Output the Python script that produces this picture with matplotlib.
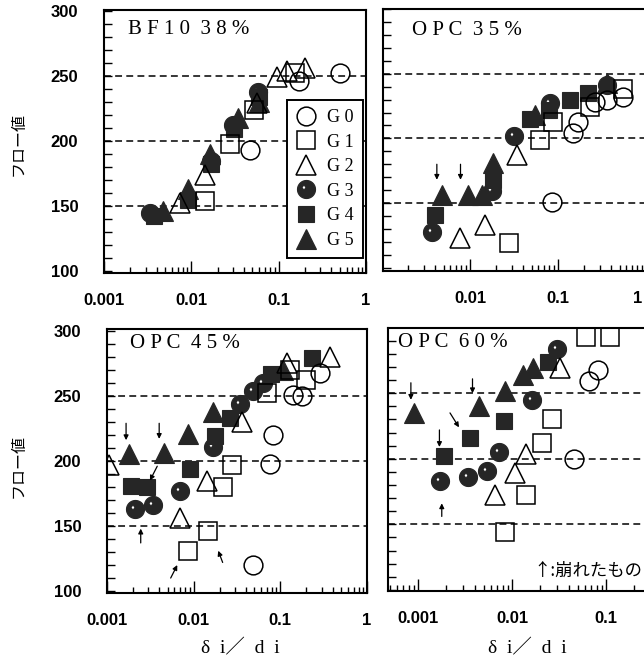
import numpy as np
import matplotlib
matplotlib.use("Agg")
import matplotlib.pyplot as plt
from matplotlib.path import Path
from matplotlib.ticker import LogLocator, MultipleLocator, FixedLocator, FixedFormatter, NullFormatter

# ---------------- data ----------------
series_labels = ["G 0", "G 1", "G 2", "G 3", "G 4", "G 5"]
panel_titles = ["B F 1 0  3 8 %", "O P C  3 5 %", "O P C  4 5 %", "O P C  6 0 %"]
y_tick_values = [100, 150, 200, 250, 300]
ref_levels = [150, 200, 250]
x_tick_values = [0.001, 0.01, 0.1, 1]
x_tick_labels = ["0.001", "0.01", "0.1", "1"]
ylabel_text = "フロー値"
xlabel_text = "δ  i／  d  i"
note_text = "↑:崩れたもの"

# BF10 38%
bf38_g0_x = [0.047, 0.17, 0.50]
bf38_g0_y = [193, 246, 252]
bf38_g1_x = [0.0145, 0.0275, 0.052, 0.154]
bf38_g1_y = [154, 198, 224, 252]
bf38_g2_x = [0.0074, 0.0145, 0.057, 0.095, 0.125, 0.20]
bf38_g2_y = [152, 174, 229, 249, 254, 256]
bf38_g3_x = [0.0034, 0.017, 0.030, 0.058]
bf38_g3_y = [145, 185, 212, 238]
bf38_g4_x = [0.0037, 0.0092, 0.017, 0.031, 0.060]
bf38_g4_y = [142, 155, 182, 209, 234]
bf38_g5_x = [0.0048, 0.0092, 0.0165, 0.034, 0.060]
bf38_g5_y = [146, 163, 190, 218, 230]
bf38_arrows = []

# OPC 35%
opc35_g0_x = [0.085, 0.149, 0.17, 0.26, 0.36, 0.55]
opc35_g0_y = [151, 204, 213, 228, 230, 232]
opc35_g1_x = [0.028, 0.062, 0.088, 0.23, 0.55]
opc35_g1_y = [119, 199, 213, 224, 238]
opc35_g2_x = [0.0077, 0.0148, 0.034]
opc35_g2_y = [123, 133, 187]
opc35_g3_x = [0.0037, 0.0176, 0.032, 0.081, 0.36]
opc35_g3_y = [128, 159, 202, 227, 241]
opc35_g4_x = [0.0040, 0.0184, 0.048, 0.078, 0.137, 0.22]
opc35_g4_y = [141, 168, 215, 222, 230, 235]
opc35_g5_x = [0.0048, 0.0096, 0.0136, 0.0184, 0.055, 0.36]
opc35_g5_y = [156, 156, 156, 181, 218, 243]
opc35_arrows = [(0.0042, 180, 0.0042, 168), (0.0078, 180, 0.0078, 168)]

# OPC 45%
opc45_g0_x = [0.048, 0.075, 0.083, 0.141, 0.176, 0.29]
opc45_g0_y = [120, 198, 220, 251, 250, 268]
opc45_g1_x = [0.0087, 0.0148, 0.022, 0.0274, 0.070, 0.128, 0.20]
opc45_g1_y = [131, 146, 180, 197, 252, 270, 262]
opc45_g2_x = [0.00105, 0.0069, 0.0141, 0.0357, 0.118, 0.373]
opc45_g2_y = [197, 156, 185, 230, 275, 280]
opc45_g3_x = [0.0021, 0.0034, 0.0070, 0.0168, 0.034, 0.049, 0.063]
opc45_g3_y = [163, 166, 177, 211, 244, 254, 260]
opc45_g4_x = [0.0019, 0.0029, 0.0091, 0.0176, 0.026, 0.079, 0.23]
opc45_g4_y = [181, 180, 194, 219, 233, 267, 279]
opc45_g5_x = [0.0018, 0.0045, 0.0087, 0.0168, 0.108]
opc45_g5_y = [205, 206, 221, 238, 270]
opc45_arrows = [(0.00166, 229, 0.00166, 216), (0.0040, 229, 0.0040, 217),
                (0.0038, 196, 0.00313, 185), (0.00245, 137, 0.00245, 148),
                (0.00543, 110, 0.00647, 120), (0.0216, 122, 0.0192, 131)]

# OPC 60%
opc60_g0_x = [0.0457, 0.0665, 0.083]
opc60_g0_y = [200, 259, 268]
opc60_g1_x = [0.0084, 0.0141, 0.0207, 0.0264, 0.062, 0.11]
opc60_g1_y = [144, 172, 212, 230, 293, 293]
opc60_g2_x = [0.0066, 0.0108, 0.0141, 0.0324]
opc60_g2_y = [172, 189, 204, 269]
opc60_g3_x = [0.0017, 0.0034, 0.0054, 0.0072, 0.0164, 0.030]
opc60_g3_y = [183, 186, 191, 205, 245, 284]
opc60_g4_x = [0.0019, 0.0036, 0.0083, 0.0243]
opc60_g4_y = [202, 216, 229, 274]
opc60_g5_x = [0.00090, 0.0045, 0.0084, 0.0130, 0.0169]
opc60_g5_y = [235, 240, 252, 264, 269]
opc60_arrows = [(0.00084, 258, 0.00084, 245), (0.0038, 261, 0.0038, 250),
                (0.00219, 235, 0.00273, 224), (0.00169, 222, 0.00169, 209),
                (0.00179, 156, 0.00179, 166)]

# ---------------- figure ----------------
W, H = 644, 662
fig = plt.figure(figsize=(W / 100, H / 100), dpi=100)

def px_axes(x0, x1, ytop, ybot):
    return fig.add_axes([x0 / W, 1 - ybot / H, (x1 - x0) / W, (ybot - ytop) / H])

DARK = "#262626"

def circle_verts(cx, cy, r, n, ccw=True):
    t = np.linspace(0, 2 * np.pi, n, endpoint=False)
    if not ccw:
        t = t[::-1]
    return np.column_stack([cx + r * np.cos(t), cy + r * np.sin(t)])

outer = circle_verts(0, 0, 1, 64, True)
inner = circle_verts(-0.28, 0.22, 0.2, 24, False)
g3_verts = np.vstack([outer, outer[:1], inner, inner[:1]])
g3_codes = ([Path.MOVETO] + [Path.LINETO] * 63 + [Path.CLOSEPOLY]
            + [Path.MOVETO] + [Path.LINETO] * 23 + [Path.CLOSEPOLY])
g3_marker = Path(g3_verts, g3_codes)

styles = [
    dict(marker="o", ms=13.5, mfc="none", mec="black", mew=1.1),
    dict(marker="s", ms=12.5, mfc="none", mec="black", mew=1.1),
    dict(marker="^", ms=14.5, mfc="none", mec="black", mew=1.1),
    dict(marker=g3_marker, ms=13, mfc=DARK, mec=DARK, mew=0.8),
    dict(marker="s", ms=11.5, mfc=DARK, mec=DARK, mew=0.8),
    dict(marker="^", ms=14.5, mfc=DARK, mec=DARK, mew=0.8),
]
draw_order = [3, 4, 5, 0, 1, 2]

tick_font = dict(family="Liberation Sans", weight="bold", size=12)
serif_font = ["Liberation Serif", "DejaVu Serif"]

panels = [
    dict(rect=(104, 366, 9.5, 273), xlim=(1e-3, 1), ylim=(98.5, 301.2),
         xs=[bf38_g0_x, bf38_g1_x, bf38_g2_x, bf38_g3_x, bf38_g4_x, bf38_g5_x],
         ys=[bf38_g0_y, bf38_g1_y, bf38_g2_y, bf38_g3_y, bf38_g4_y, bf38_g5_y],
         arrows=bf38_arrows, ylab=True, xlab_idx=[0, 1, 2, 3], toff=(24, 19.5)),
    dict(rect=(383, 646, 9, 271), xlim=(10 ** (1 / 88 - 3), 1), ylim=(97.5, 300),
         xs=[opc35_g0_x, opc35_g1_x, opc35_g2_x, opc35_g3_x, opc35_g4_x, opc35_g5_x],
         ys=[opc35_g0_y, opc35_g1_y, opc35_g2_y, opc35_g3_y, opc35_g4_y, opc35_g5_y],
         arrows=opc35_arrows, ylab=False, xlab_idx=[1, 2], toff=(29, 21.5)),
    dict(rect=(107, 367, 329, 593), xlim=(1e-3, 1), ylim=(98.5, 301.5),
         xs=[opc45_g0_x, opc45_g1_x, opc45_g2_x, opc45_g3_x, opc45_g4_x, opc45_g5_x],
         ys=[opc45_g0_y, opc45_g1_y, opc45_g2_y, opc45_g3_y, opc45_g4_y, opc45_g5_y],
         arrows=opc45_arrows, ylab=True, xlab_idx=[0, 1, 2, 3], toff=(23, 15)),
    dict(rect=(388, 700, 328, 591), xlim=(10 ** (-3 - 30 / 94), 1), ylim=(99.1, 299.8),
         xs=[opc60_g0_x, opc60_g1_x, opc60_g2_x, opc60_g3_x, opc60_g4_x, opc60_g5_x],
         ys=[opc60_g0_y, opc60_g1_y, opc60_g2_y, opc60_g3_y, opc60_g4_y, opc60_g5_y],
         arrows=opc60_arrows, ylab=False, xlab_idx=[0, 1, 2], toff=(10, 15)),
]

axes = []
for i, p in enumerate(panels):
    ax = px_axes(*p["rect"])
    axes.append(ax)
    ax.set_xscale("log")
    ax.set_xlim(*p["xlim"])
    ax.set_ylim(*p["ylim"])
    for lvl in ref_levels:
        ax.axhline(lvl, color="black", lw=1.1, dashes=(4.5, 2.8), zorder=1)
    handles = [None] * 6
    for k in draw_order:
        (h,) = ax.plot(p["xs"][k], p["ys"][k], linestyle="none", zorder=3,
                       label=series_labels[k], **styles[k])
        handles[k] = h
    for (x0, y0, x1, y1) in p["arrows"]:
        ax.annotate("", xy=(x1, y1), xytext=(x0, y0),
                    arrowprops=dict(arrowstyle="-|>", lw=0.9, color="black",
                                    mutation_scale=7, shrinkA=0, shrinkB=0),
                    zorder=4)
    for s in ax.spines.values():
        s.set_linewidth(1.5)
    # y ticks
    ax.yaxis.set_major_locator(FixedLocator(y_tick_values))
    ax.yaxis.set_minor_locator(MultipleLocator(10))
    ax.tick_params(axis="y", which="both", direction="in", length=6, width=1.0,
                   left=True, right=False, pad=18.5)
    if p["ylab"]:
        ax.set_yticklabels([str(v) for v in y_tick_values], fontdict=tick_font)
    else:
        ax.yaxis.set_major_formatter(NullFormatter())
    # x ticks
    ax.xaxis.set_major_locator(FixedLocator(x_tick_values))
    ax.xaxis.set_minor_locator(LogLocator(base=10, subs=np.arange(2, 10), numticks=20))
    ax.xaxis.set_minor_formatter(NullFormatter())
    labels = [x_tick_labels[j] if j in p["xlab_idx"] else "" for j in range(4)]
    ax.xaxis.set_major_formatter(FixedFormatter(labels))
    for t in ax.get_xticklabels():
        t.set_fontproperties(matplotlib.font_manager.FontProperties(**tick_font))
    ax.tick_params(axis="x", which="major", direction="in", length=9, width=1.0,
                   top=False, pad=14.5)
    ax.tick_params(axis="x", which="minor", direction="in", length=4.5, width=1.0,
                   top=False)
    # title
    ax.annotate(panel_titles[i], xy=(0, 1), xycoords="axes fraction",
                xytext=(p["toff"][0] * 0.72, -p["toff"][1] * 0.72),
                textcoords="offset points", ha="left", va="center",
                fontsize=15, family=serif_font, zorder=5)
    if i == 0:
        leg = ax.legend(handles=handles, labels=series_labels, loc="upper right",
                        bbox_to_anchor=(0.9885, 0.6565), borderaxespad=0,
                        frameon=True, fancybox=False, framealpha=1,
                        edgecolor="black", handlelength=1.0, handletextpad=0.7,
                        borderpad=0.5, labelspacing=0.42,
                        prop=dict(family=serif_font, size=13))
        leg.get_frame().set_linewidth(1.4)
        leg.set_zorder(6)

# the "1" label of the upper-right panel sits at the figure edge: place it just inside
axes[1].annotate(x_tick_labels[3], xy=(1, 0), xycoords="axes fraction",
                 xytext=(-6, -14.5), textcoords="offset points",
                 ha="center", va="top", **{"fontproperties": matplotlib.font_manager.FontProperties(**tick_font)})

# y labels
for yc in (144, 466):
    fig.text(18 / W, 1 - yc / H, ylabel_text, rotation=90, ha="center", va="center",
             fontsize=11.5, family=["Noto Sans CJK JP", "DejaVu Sans"])
# x labels
for xc in (240, 527):
    fig.text(xc / W, 1 - 648 / H, xlabel_text, ha="center", va="center",
             fontsize=14, family=["Liberation Serif", "Noto Sans CJK JP"])
# note
fig.text(642 / W, 1 - 571 / H, note_text, ha="right", va="center",
         fontsize=12.5, family=["Noto Sans CJK JP", "DejaVu Sans"])

fig.savefig("out.png", dpi=100)
